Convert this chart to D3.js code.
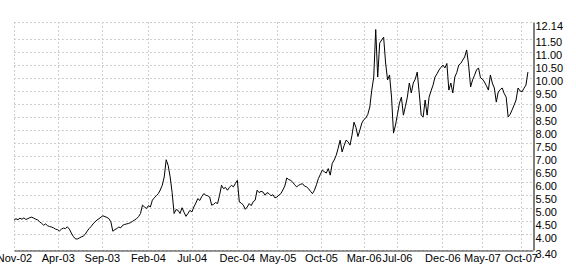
<!DOCTYPE html>
<html><head><meta charset="utf-8">
<script src="https://cdn.jsdelivr.net/npm/d3@7"></script>
<style>
html,body{margin:0;padding:0;background:#fff;}
svg{display:block;}
text{font-family:Arial,"Liberation Sans",sans-serif;font-size:11px;fill:#000;}
</style></head>
<body>
<svg id="chart" width="576" height="277"></svg>
<script>
// weekly closing values, starting 2002-11-01
const startDate = "2002-11-01";
const prices = [
4.54,4.60,4.56,4.62,4.58,4.63,4.57,4.60,4.64,4.66,
4.62,4.58,4.55,4.48,4.42,4.35,4.40,4.33,4.30,4.28,
4.25,4.20,4.18,4.13,4.20,4.24,4.22,4.29,4.20,4.05,
3.92,3.83,3.82,3.86,3.90,3.93,4.00,4.12,4.22,4.30,
4.40,4.48,4.55,4.60,4.66,4.71,4.68,4.65,4.60,4.48,
4.12,4.18,4.22,4.28,4.25,4.35,4.38,4.40,4.42,4.45,
4.50,4.55,4.60,4.68,4.80,5.12,5.05,4.99,5.10,5.05,
5.31,5.40,5.48,5.56,5.70,5.88,6.20,6.86,6.64,6.20,
5.60,4.80,4.95,4.92,4.80,5.02,4.85,4.69,4.80,4.92,
4.86,5.05,5.20,5.37,5.30,5.45,5.56,5.50,5.48,5.43,
5.12,5.15,5.22,5.18,5.50,5.88,5.75,5.80,5.69,5.80,
5.88,5.82,5.95,6.07,5.24,5.20,5.12,4.96,5.05,5.18,
5.10,5.25,5.31,5.69,5.60,5.65,5.62,5.50,5.60,5.56,
5.48,5.52,5.40,5.43,5.50,5.56,5.70,5.85,6.16,6.10,
6.07,6.00,5.90,5.82,5.88,5.92,5.94,5.85,5.82,5.75,
5.65,5.56,5.69,5.90,6.14,6.30,6.46,6.40,6.35,6.52,
6.27,6.72,6.85,7.03,7.30,7.61,7.16,7.40,7.61,7.55,
7.42,7.80,8.30,8.10,7.75,8.00,8.27,8.40,8.46,8.60,
8.88,9.53,10.03,11.85,10.03,11.33,11.45,11.56,10.57,9.92,
10.11,9.26,7.88,8.19,8.60,9.03,9.26,8.57,8.90,9.26,
9.80,9.42,9.80,9.95,10.22,9.42,8.57,8.50,9.15,8.57,
9.26,9.50,9.72,10.03,10.15,10.30,10.40,10.49,10.38,10.55,
9.53,9.80,9.42,10.03,10.20,10.49,10.55,10.68,10.80,11.07,
10.49,9.65,9.92,10.10,10.30,10.38,10.00,9.95,9.84,9.70,
9.53,10.11,9.80,9.61,9.07,9.46,9.55,9.61,9.40,9.26,
8.50,8.60,8.77,8.95,9.15,9.61,9.50,9.46,9.60,9.72,10.22
];
const tickDates = ["2002-11-01","2003-04-05","2003-09-08","2004-02-18","2004-07-22","2004-12-29",
  "2005-05-22","2005-10-23","2006-03-23","2006-07-19","2006-12-27","2007-05-16","2007-10-01"];
const yTicks = [12.14,11.50,11.00,10.50,10.00,9.50,9.00,8.50,8.00,7.50,7.00,6.50,6.00,5.50,5.00,4.50,4.00,3.40];
const yDomain = [3.40, 12.14];
const xDomain = ["2002-11-01","2007-11-13"];

const parse = d3.utcParse("%Y-%m-%d");
const t0 = parse(startDate);
const data = prices.map((v,i)=>({date:d3.utcDay.offset(t0, 7*i), value:v}));

const W=576,H=277, m={left:14,right:43,top:22,bottom:27};
const svg = d3.select("#chart");
const x = d3.scaleUtc().domain(xDomain.map(parse)).range([m.left, W-m.right]);
const y = d3.scaleLinear().domain(yDomain).range([H-m.bottom, m.top]);

const grid = svg.append("g").attr("stroke","#cfcfcf").attr("stroke-dasharray","2,2").attr("stroke-width",1);
grid.selectAll("line.h").data(yTicks).join("line").attr("class","h")
  .attr("x1",m.left).attr("x2",W-m.right)
  .attr("y1",d=>Math.round(y(d))+0.5).attr("y2",d=>Math.round(y(d))+0.5);
grid.selectAll("line.v").data(tickDates.map(parse)).join("line").attr("class","v")
  .attr("y1",m.top).attr("y2",H-m.bottom)
  .attr("x1",d=>Math.round(x(d))+0.5).attr("x2",d=>Math.round(x(d))+0.5);

// right axis
const yAxis = d3.axisRight(y).tickValues(yTicks).tickFormat(d3.format(".2f")).tickSize(0).tickPadding(2);
const ya = svg.append("g").attr("transform",`translate(${W-m.right+0.5},0)`).call(yAxis);
ya.select(".domain").attr("stroke","#000");
ya.selectAll("text").attr("dy","0.9em").attr("y",-2.8).style("font-family","Arial, 'Liberation Sans', sans-serif").style("font-size","11px");

// bottom axis
const xAxis = d3.axisBottom(x).tickValues(tickDates.map(parse)).tickFormat(d3.utcFormat("%b-%y")).tickSize(0).tickPadding(4);
const xa = svg.append("g").attr("transform",`translate(0,${H-m.bottom+0.5})`).call(xAxis);
xa.select(".domain").attr("stroke","#333");
xa.selectAll("text").style("font-family","Arial, 'Liberation Sans', sans-serif").style("font-size","11px");

const line = d3.line().x(d=>x(d.date)).y(d=>y(d.value));
svg.append("path").datum(data).attr("fill","none").attr("stroke","#000").attr("stroke-width",1).attr("d",line);
</script>
</body></html>
